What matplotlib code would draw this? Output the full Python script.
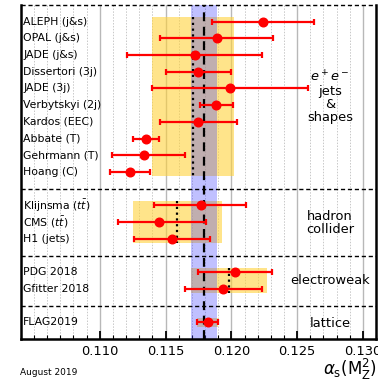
import matplotlib
matplotlib.use("Agg")
import matplotlib.pyplot as plt
from matplotlib.ticker import MultipleLocator

# ---- data ----
labels = ["ALEPH (j&s)", "OPAL (j&s)", "JADE (j&s)", "Dissertori (3j)", "JADE (3j)",
          "Verbytskyi (2j)", "Kardos (EEC)", "Abbate (T)", "Gehrmann (T)", "Hoang (C)",
          r"Klijnsma ($t\bar{t}$)", r"CMS ($t\bar{t}$)", "H1 (jets)",
          "PDG 2018", "Gfitter 2018", "FLAG2019"]
rows = [1, 2, 3, 4, 5, 6, 7, 8, 9, 10, 12, 13, 14, 16, 17, 19]
values = [0.1224, 0.1189, 0.1172, 0.1175, 0.1199, 0.1188, 0.1175, 0.1135, 0.1134, 0.1123,
          0.1177, 0.1145, 0.1155, 0.1203, 0.1194, 0.1182]
err_lo = [0.0039, 0.0043, 0.0051, 0.0025, 0.0059, 0.0012, 0.0029, 0.0010, 0.0025, 0.0015,
          0.0036, 0.0031, 0.0029, 0.0028, 0.0029, 0.0008]
err_hi = [0.0039, 0.0043, 0.0051, 0.0025, 0.0059, 0.0013, 0.0029, 0.0010, 0.0031, 0.0015,
          0.0034, 0.0036, 0.0029, 0.0028, 0.0029, 0.0008]

group_names = [r"$e^+e^-$" + "\njets\n&\nshapes", "hadron\ncollider", "electroweak", "lattice"]
group_center = [0.1171, 0.1159, 0.1198, 0.1182]
group_halfwidth = [0.0031, 0.0034, 0.0029, 0.0008]
group_first = [1, 12, 16, 19]
group_last = [10, 14, 17, 19]
group_text_row = [5.5, 13.05, 16.5, 19.05]
separators = [11, 15, 18]

world_avg = 0.1179
world_err = 0.0010

# ---- figure ----
fig = plt.figure(figsize=(3.78, 3.81), dpi=100)
ax = fig.add_axes([0.055, 0.110, 0.940, 0.877])
xmin, xmax = 0.104, 0.131
ax.set_xlim(xmin, xmax)
ax.set_ylim(20, 0)

# grid
ax.xaxis.set_major_locator(MultipleLocator(0.005))
ax.xaxis.set_minor_locator(MultipleLocator(0.001))
ax.grid(which="major", axis="x", color="#b8b8b8", lw=1.0, zorder=0)
ax.grid(which="minor", axis="x", color="#c8c8c8", lw=0.7, ls=(0, (1.5, 1.5)), zorder=0)
ax.set_axisbelow(True)
ax.set_yticks([])

# group boxes
for c, h, f, l in zip(group_center, group_halfwidth, group_first, group_last):
    ax.fill_between([c - h, c + h], f - 0.25, l + 0.25, color="#ffd23c", alpha=0.6,
                    lw=0, zorder=1)
    if l > f:
        ax.plot([c, c], [f - 0.25, l + 0.25], color="black", ls=(0, (1, 1.6)), lw=1.6, zorder=3)

# world average band
ax.axvspan(world_avg - world_err, world_avg + world_err, color="#3c3cff", alpha=0.32,
           lw=0, zorder=2)
ax.axvline(world_avg, color="black", ls=(0, (4, 2.5)), lw=1.6, zorder=3)

# separators
ax.axhline(0, color="black", ls=(0, (3, 2)), lw=1.0, zorder=4, clip_on=False)
for s in separators:
    ax.axhline(s, color="black", ls=(0, (3, 2)), lw=1.0, zorder=4)

# points
ax.errorbar(values, rows, xerr=[err_lo, err_hi], fmt="o", color="red", ecolor="red",
            ms=6.2, elinewidth=1.6, capsize=2.5, capthick=1.6, zorder=5)

# labels
for lab, r in zip(labels, rows):
    ax.text(xmin + 0.00018, r, lab, ha="left", va="center", fontsize=7.8, zorder=6)

for name, r in zip(group_names, group_text_row):
    ax.text(0.1275, r, name, ha="center", va="center", fontsize=9.4, zorder=6,
            linespacing=1.0)

# spines/ticks
ax.spines["top"].set_visible(False)
for sp in ["left", "right", "bottom"]:
    ax.spines[sp].set_linewidth(1.8)
ax.tick_params(axis="x", which="major", direction="in", length=6, width=1.3,
               labelsize=9.4, pad=4)
ax.tick_params(axis="x", which="minor", direction="in", length=3, width=0.8)
ax.set_xticks([0.110, 0.115, 0.120, 0.125, 0.130])
ax.set_xticklabels(["0.110", "0.115", "0.120", "0.125", "0.130"])

fig.text(0.998, 0.030, r"$\alpha_{\rm s}({\rm M}_{\rm Z}^2)$", ha="right", va="center",
         fontsize=12)
fig.text(0.053, 0.021, "August 2019", ha="left", va="center", fontsize=6.5)

fig.savefig("out.png", dpi=100)
